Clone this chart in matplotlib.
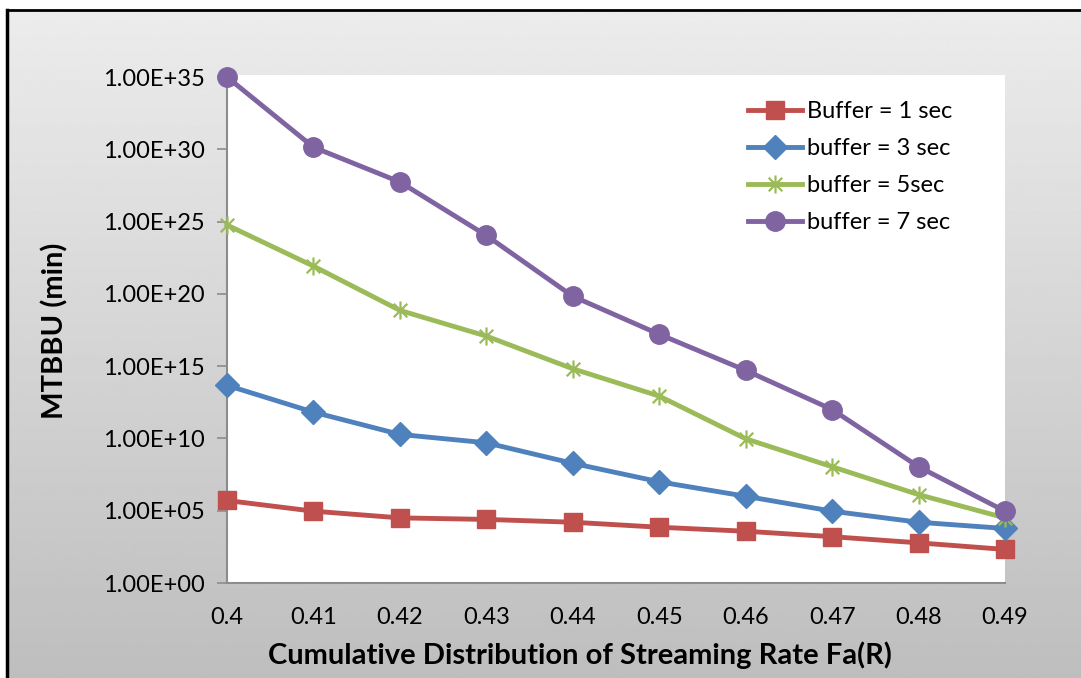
import numpy as np
import matplotlib.pyplot as plt
from matplotlib.path import Path
from matplotlib.ticker import FuncFormatter, FixedLocator

plt.rcParams['font.family'] = ['Lato', 'DejaVu Sans']

fa = [0.4, 0.41, 0.42, 0.43, 0.44, 0.45, 0.46, 0.47, 0.48, 0.49]
fa_labels = ['0.4', '0.41', '0.42', '0.43', '0.44', '0.45', '0.46', '0.47', '0.48', '0.49']

buf1 = [5.1e5, 9.3e4, 3.2e4, 2.5e4, 1.6e4, 7.2e3, 3.8e3, 1.6e3, 6.0e2, 2.1e2]
buf3 = [4.7e13, 6.6e11, 1.9e10, 5.0e9, 1.9e8, 1.0e7, 1.0e6, 9.3e4, 1.6e4, 5.9e3]
buf5 = [5.8e24, 8.3e21, 7.2e18, 1.2e17, 6.6e14, 8.5e12, 9.5e9, 1.1e8, 1.3e6, 3.2e4]
buf7 = [1.0e35, 1.4e30, 5.5e27, 1.1e24, 6.8e19, 1.6e17, 5.1e14, 1.0e12, 1.1e8, 9.3e4]

# asterisk marker: vertical bar plus an X
star = Path([(0, -1), (0, 1), (-0.75, -0.75), (0.75, 0.75), (-0.75, 0.75), (0.75, -0.75)],
            [Path.MOVETO, Path.LINETO, Path.MOVETO, Path.LINETO, Path.MOVETO, Path.LINETO])

W, H = 1081, 678
fig = plt.figure(figsize=(W / 100, H / 100), dpi=100)

# grey gradient chart area with black frame on top / left
bg = fig.add_axes([0, 0, 1, 1], zorder=-10)
bg.set_xlim(0, W)
bg.set_ylim(H, 0)
bg.axis('off')
grad = np.linspace(0.925, 0.745, 256).reshape(-1, 1)
bg.imshow(grad, cmap='gray', vmin=0, vmax=1, extent=[7, W, H, 10], aspect='auto')
bg.plot([7, W], [10, 10], color='black', lw=2)
bg.plot([7, 7], [10, H], color='black', lw=2.5)

ax = fig.add_axes([227 / W, 1 - 583 / H, (1005 - 227) / W, (583 - 75) / H])
ax.set_facecolor('white')

ax.plot(fa, buf1, color='#C0504D', lw=3.5, marker='s', ms=13, label='Buffer = 1 sec', clip_on=False, zorder=4)
ax.plot(fa, buf3, color='#4F81BD', lw=3.5, marker='D', ms=12, label='buffer = 3 sec', clip_on=False, zorder=4)
ax.plot(fa, buf5, color='#9BBB59', lw=3.5, marker=star, ms=13, mew=1.6, mfc='none', label='buffer = 5sec', clip_on=False, zorder=4)
ax.plot(fa, buf7, color='#8064A2', lw=3.5, marker='o', ms=14, label='buffer = 7 sec', clip_on=False, zorder=4)

ax.set_yscale('log')
ax.set_xlim(0.4, 0.49)
ax.set_ylim(1, 10 ** 35.14)
ax.yaxis.set_major_locator(FixedLocator([10.0 ** k for k in range(0, 36, 5)]))
ax.yaxis.set_minor_locator(FixedLocator([]))
ax.yaxis.set_major_formatter(FuncFormatter(lambda v, p: f'{v:.2E}'))
ax.set_xticks(fa)
ax.set_xticklabels(fa_labels)

for s in ['top', 'right']:
    ax.spines[s].set_visible(False)
for s in ['left', 'bottom']:
    ax.spines[s].set_color('#8c8c8c')
    ax.spines[s].set_linewidth(1.5)
ax.tick_params(axis='y', length=7, width=1.2, color='#8c8c8c', pad=9, labelsize=17)
ax.tick_params(axis='x', length=0, pad=17, labelsize=17)

fig.text(580 / W, 1 - 655 / H, 'Cumulative Distribution of Streaming Rate Fa(R)',
         ha='center', va='center', fontsize=21, fontweight='bold')
fig.text(55 / W, 1 - 331 / H, 'MTBBU (min)', ha='center', va='center',
         rotation=90, fontsize=21, fontweight='bold')

ax.legend(loc='upper left', bbox_to_anchor=(748 / W, 1 - 101 / H), bbox_transform=fig.transFigure,
          frameon=False, fontsize=17, handlelength=2.3, handletextpad=0.2, labelspacing=0.68,
          borderaxespad=0, borderpad=0)

fig.savefig('out.png', dpi=100)
